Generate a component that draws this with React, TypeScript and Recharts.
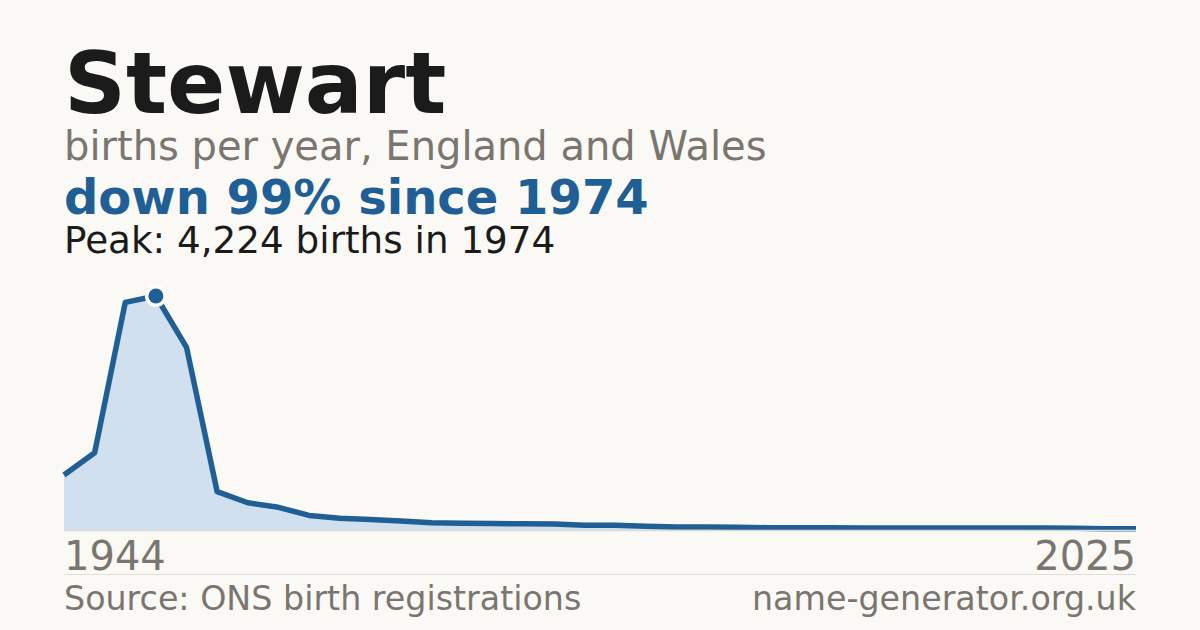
import React from "react";
import { AreaChart, Area, XAxis, YAxis, ReferenceLine } from "recharts";

const years: number[] = [
  1944, 1954, 1964, 1974, 1984, 1994,
  1996, 1997, 1998, 1999, 2000, 2001, 2002, 2003, 2004, 2005, 2006, 2007, 2008, 2009,
  2010, 2011, 2012, 2013, 2014, 2015, 2016, 2017, 2018, 2019, 2020, 2021, 2022, 2023, 2024, 2025,
];
const births: number[] = [
  1000, 1400, 4110, 4224, 3300, 700,
  500, 418, 272, 220, 198, 171, 140, 130, 126, 120, 117, 94, 94, 78,
  63, 63, 59, 50, 50, 49, 47, 45, 44, 46, 44, 43, 45, 42, 32, 32,
];
const axisTicks: number[] = [1944, 2025];

const title = "Stewart";
const subtitle = "births per year, England and Wales";
const headline = "down 99% since 1974";
const peakLine = "Peak: 4,224 births in 1974";
const source = "Source: ONS birth registrations";
const site = "name-generator.org.uk";

const data = years.map((y, i) => ({ year: y, births: births[i] }));
const peakIndex = births.indexOf(Math.max(...births));

const BG = "#faf9f5";
const BLUE = "#1f5f96";
const FILL = "#d0e0ef";
const GRAY = "#7a766f";
const DARK = "#1b1b1b";
const FONT = "'DejaVu Sans', sans-serif";

const EdgeTick = (props: any) => {
  const { x, y, payload, index } = props;
  return (
    <text
      x={x}
      y={y}
      dy={39.5}
      textAnchor={index === 0 ? "start" : "end"}
      fill={GRAY}
      fontSize={40}
      fontFamily={FONT}
    >
      {payload.value}
    </text>
  );
};

const PeakDot = (props: any) => {
  const { cx, cy, index } = props;
  if (index !== peakIndex || cx == null || cy == null) return <g key={`d${index}`} />;
  return (
    <g key={`d${index}`}>
      <circle cx={cx} cy={cy} r={11} fill="#ffffff" />
      <circle cx={cx} cy={cy} r={7.5} fill={BLUE} />
    </g>
  );
};

export default function App() {
  return (
    <div
      style={{
        position: "absolute",
        left: 0,
        top: 0,
        width: 1200,
        height: 630,
        background: BG,
        overflow: "hidden",
        fontFamily: FONT,
      }}
    >
      <div style={{ position: "absolute", left: 0, top: 0 }}>
        <AreaChart
          width={1200}
          height={630}
          data={data}
          margin={{ top: 296, right: 64, left: 64, bottom: 69.5 }}
        >
          <YAxis hide domain={[0, births[peakIndex]]} type="number" />
          <XAxis
            dataKey="year"
            ticks={axisTicks}
            interval={0}
            axisLine={false}
            tickLine={false}
            tickSize={0}
            tickMargin={0}
            height={30}
            tick={<EdgeTick />}
          />
          <Area
            type="linear"
            dataKey="births"
            stroke={BLUE}
            strokeWidth={5.5}
            strokeLinejoin="round"
            fill={FILL}
            fillOpacity={1}
            isAnimationActive={false}
            dot={PeakDot}
            activeDot={false}
          />
          <ReferenceLine y={0} stroke="#dedad2" strokeWidth={1.5} />
        </AreaChart>
      </div>
      <svg
        width={1200}
        height={630}
        style={{ position: "absolute", left: 0, top: 0, pointerEvents: "none" }}
      >
        <text x={64} y={113} fontSize={86} fontWeight="bold" fill={DARK} fontFamily={FONT}>
          {title}
        </text>
        <text x={64} y={160} fontSize={40} fill={GRAY} fontFamily={FONT}>
          {subtitle}
        </text>
        <text x={64} y={214} fontSize={48} fontWeight="bold" fill={BLUE} fontFamily={FONT}>
          {headline}
        </text>
        <text x={64} y={253} fontSize={37.3} fill={DARK} fontFamily={FONT}>
          {peakLine}
        </text>
        <line x1={64} x2={1136} y1={574.5} y2={574.5} stroke="#e2ded7" strokeWidth={1} />
        <text x={64} y={610} fontSize={33.3} fill={GRAY} fontFamily={FONT}>
          {source}
        </text>
        <text x={1136} y={610} fontSize={33.3} fill={GRAY} fontFamily={FONT} textAnchor="end">
          {site}
        </text>
      </svg>
    </div>
  );
}
